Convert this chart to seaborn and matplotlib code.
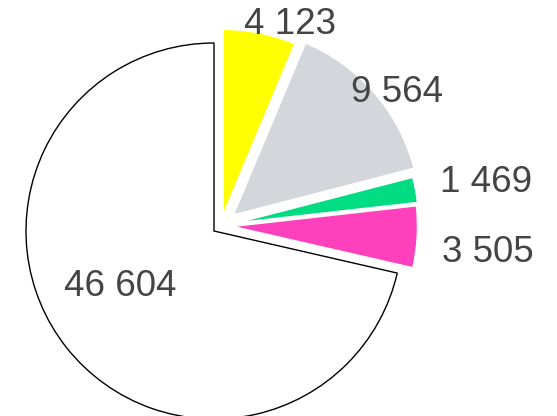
import matplotlib
matplotlib.use("Agg")
import matplotlib.pyplot as plt
import seaborn as sns

# Slice data (clockwise from 12 o'clock)
values = [4123, 9564, 1469, 3505, 46604]
labels = ["4 123", "9 564", "1 469", "3 505", "46 604"]
colors = ["#ffff00", "#d3d6db", "#00dc82", "#ff40bd", "#ffffff"]
explode = [0.048, 0.082, 0.055, 0.048, 0.0]

# the coloured slices are pulled out as a group, then each a bit more
group_shift = (0.037, 0.028)

# label centres in pie units (radius = 1)
label_pos = [(0.405, 1.096), (0.975, 0.736), (1.445, 0.256), (1.455, -0.114), (-0.50, -0.295)]

sns.set_theme(style="white")
plt.rcParams["font.family"] = ["Liberation Sans", "DejaVu Sans"]

fig = plt.figure(figsize=(5.57, 4.16), dpi=100)
ax = fig.add_axes([0, 0, 1, 1])

# big "other" slice, thin black outline
base, texts = ax.pie(values, labels=labels, colors=colors,
                     startangle=90, counterclock=False,
                     wedgeprops=dict(edgecolor="black", linewidth=1.0),
                     textprops=dict(fontsize=26.5, color="#444444"))
for w in base[:-1]:
    w.set_visible(False)

# coloured slices, separated by white borders
moved, _ = ax.pie(values, colors=colors, explode=explode, center=group_shift,
                  startangle=90, counterclock=False,
                  wedgeprops=dict(edgecolor="white", linewidth=1.7))
moved[-1].set_visible(False)

for t, (x, y) in zip(texts, label_pos):
    t.set_position((x, y))
    t.set_ha("center")
    t.set_va("center")

ax.set_aspect("auto")
ax.set_xlim(-214 / 188, (557 - 214) / 188)
ax.set_ylim(-(416 - 231) / 188, 231 / 188)
ax.axis("off")

fig.savefig("out.png", dpi=100)
